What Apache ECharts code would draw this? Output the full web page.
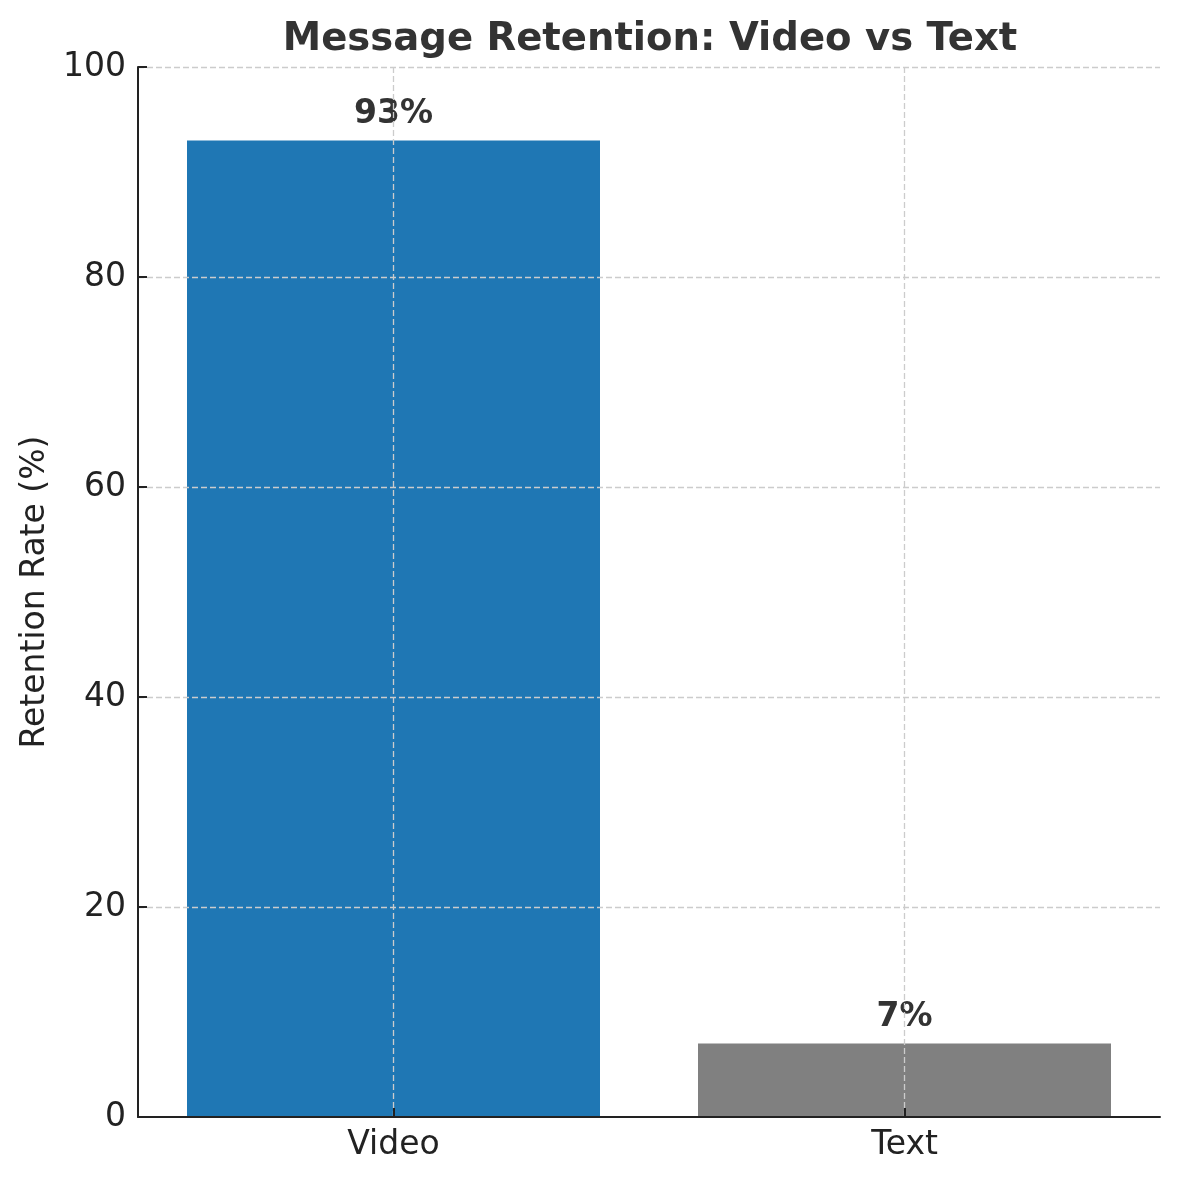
<!DOCTYPE html>
<html>
<head>
<meta charset="utf-8">
<script src="https://cdn.jsdelivr.net/npm/echarts@6/dist/echarts.min.js"></script>
<style>
html,body{margin:0;padding:0;background:#fff;}
#chart{width:1180px;height:1180px;}
</style>
</head>
<body>
<div id="chart"></div>
<script>
var titleText = 'Message Retention: Video vs Text';
var yAxisName = 'Retention Rate (%)';
var categories = ['Video', 'Text'];
var retention = [93, 7];
var barColors = ['#1f77b4', '#808080'];
var yTicks = [0, 20, 40, 60, 80, 100];

var font = 'DejaVu Sans';
var gridColor = '#cccccc';
var axisColor = '#222222';

var gridLines = [];
categories.forEach(function (c) { gridLines.push({ xAxis: c }); });
yTicks.forEach(function (v) { if (v > 0) gridLines.push({ yAxis: v }); });

var chart = echarts.init(document.getElementById('chart'), null, { renderer: 'canvas' });
chart.setOption({
  animation: false,
  backgroundColor: '#ffffff',
  title: {
    text: titleText,
    left: 645,
    textAlign: 'center',
    top: 15,
    textStyle: { fontFamily: font, fontSize: 38.6, fontWeight: 'bold', color: '#333333' }
  },
  grid: { left: 138, right: 20, top: 67, bottom: 63, containLabel: false },
  xAxis: {
    type: 'category',
    data: categories,
    z: 10,
    axisLine: { show: true, lineStyle: { color: axisColor, width: 2 } },
    axisTick: { show: true, inside: true, alignWithLabel: true, length: 9, lineStyle: { color: axisColor, width: 2 } },
    axisLabel: { fontFamily: font, fontSize: 33, color: '#222222', margin: 12 },
    splitLine: { show: false }
  },
  yAxis: {
    type: 'value',
    min: yTicks[0],
    max: yTicks[yTicks.length - 1],
    interval: yTicks[1] - yTicks[0],
    z: 10,
    name: yAxisName,
    nameLocation: 'middle',
    nameGap: 86,
    nameRotate: 90,
    nameTextStyle: { fontFamily: font, fontSize: 33, color: '#222222' },
    axisLine: { show: true, lineStyle: { color: axisColor, width: 2 } },
    axisTick: { show: true, inside: true, length: 9, lineStyle: { color: axisColor, width: 2 } },
    axisLabel: { fontFamily: font, fontSize: 33, color: '#222222', margin: 12 },
    splitLine: { show: false }
  },
  series: [{
    type: 'bar',
    barWidth: 413,
    data: retention.map(function (v, i) {
      return { value: v, itemStyle: { color: barColors[i] } };
    }),
    label: {
      show: true,
      position: 'top',
      distance: 10,
      formatter: function (p) { return p.value + '%'; },
      fontFamily: font,
      fontSize: 33,
      fontWeight: 'bold',
      color: '#333333'
    },
    markLine: {
      silent: true,
      symbol: 'none',
      z: 5,
      label: { show: false },
      lineStyle: { color: gridColor, type: [6, 3], width: 1.3 },
      emphasis: { disabled: true },
      data: gridLines
    }
  }]
});
</script>
</body>
</html>
